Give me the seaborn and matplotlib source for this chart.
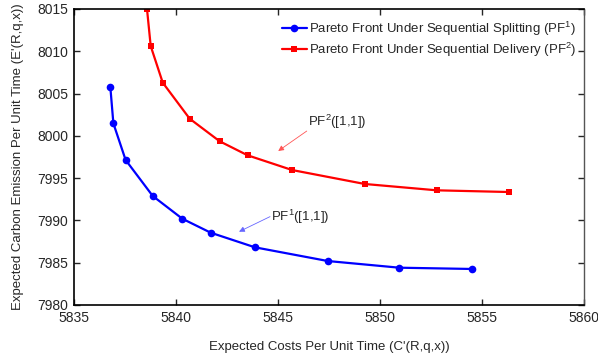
import matplotlib
matplotlib.use("Agg")
import matplotlib.pyplot as plt
import seaborn as sns
import pandas as pd

pf1_cost = [5836.78, 5836.93, 5837.53, 5838.86, 5840.31, 5841.70, 5843.87, 5847.44, 5850.95, 5854.51]
pf1_emis = [8005.81, 8001.48, 7997.15, 7992.89, 7990.20, 7988.55, 7986.82, 7985.20, 7984.41, 7984.26]
pf2_cost = [5838.58, 5838.76, 5839.35, 5840.67, 5842.14, 5843.51, 5845.69, 5849.25, 5852.78, 5856.32]
pf2_emis = [8014.96, 8010.62, 8006.29, 8002.03, 7999.36, 7997.70, 7995.96, 7994.31, 7993.56, 7993.36]

x_ticks = [5835, 5840, 5845, 5850, 5855, 5860]
y_ticks = [7980, 7985, 7990, 7995, 8000, 8005, 8010, 8015]

label1 = "Pareto Front Under Sequential Splitting (PF$^1$)"
label2 = "Pareto Front Under Sequential Delivery (PF$^2$)"

sns.set_style("ticks")
plt.rcParams['font.family'] = ['Liberation Sans', 'DejaVu Sans']
plt.rcParams['mathtext.fontset'] = 'custom'
plt.rcParams['mathtext.rm'] = 'Liberation Sans'
plt.rcParams['mathtext.it'] = 'Liberation Sans'

df1 = pd.DataFrame({"cost": pf1_cost, "emis": pf1_emis})
df2 = pd.DataFrame({"cost": pf2_cost, "emis": pf2_emis})

fig = plt.figure(figsize=(5.98, 3.6), dpi=100)
ax = fig.add_axes([74/598, 1-305/360, (584-74)/598, (305-9)/360])

sns.lineplot(data=df1, x="cost", y="emis", sort=False, ax=ax, color="#0000ff",
             marker="o", markersize=5.5, markeredgewidth=0, linewidth=1.6, label=label1)
sns.lineplot(data=df2, x="cost", y="emis", sort=False, ax=ax, color="#ff0000",
             marker="s", markersize=4.5, markeredgewidth=0, linewidth=1.6, label=label2)

ax.set_xlim(5835, 5860)
ax.set_ylim(7980, 8015)
ax.set_xticks(x_ticks)
ax.set_yticks(y_ticks)
ax.tick_params(direction="in", top=True, right=True, labelsize=10, length=4, width=1, pad=4)
ax.set_xlabel("Expected Costs Per Unit Time (C'(R,q,x))", fontsize=9.5, labelpad=12)
ax.set_ylabel("Expected Carbon Emission Per Unit Time (E'(R,q,x))", fontsize=9.5, labelpad=10)
for s in ["left", "bottom", "top"]:
    ax.spines[s].set_color("black")
    ax.spines[s].set_linewidth(1.2)
ax.spines["right"].set_color("#555555")
ax.spines["right"].set_linewidth(1.0)

leg = ax.legend(loc="upper right", frameon=False, fontsize=9.5, handlelength=1.9,
                handletextpad=0.15, labelspacing=0.2, borderaxespad=0.2,
                bbox_to_anchor=(1.0, 0.99))

ax.text(5846.45, 8001.7, "PF$^2$([1,1])", fontsize=9.5, va="center", ha="left")
ax.annotate("", xy=(5845.01, 7998.21), xytext=(5846.41, 8000.57),
            arrowprops=dict(arrowstyle="-|>", color="#ff5555", lw=0.6,
                            mutation_scale=8, shrinkA=0, shrinkB=0))
ax.text(5844.65, 7990.4, "PF$^1$([1,1])", fontsize=9.5, va="center", ha="left")
ax.annotate("", xy=(5843.09, 7988.67), xytext=(5844.61, 7990.45),
            arrowprops=dict(arrowstyle="-|>", color="#6666ff", lw=0.6,
                            mutation_scale=8, shrinkA=0, shrinkB=0))

fig.savefig("out.png", dpi=100)
